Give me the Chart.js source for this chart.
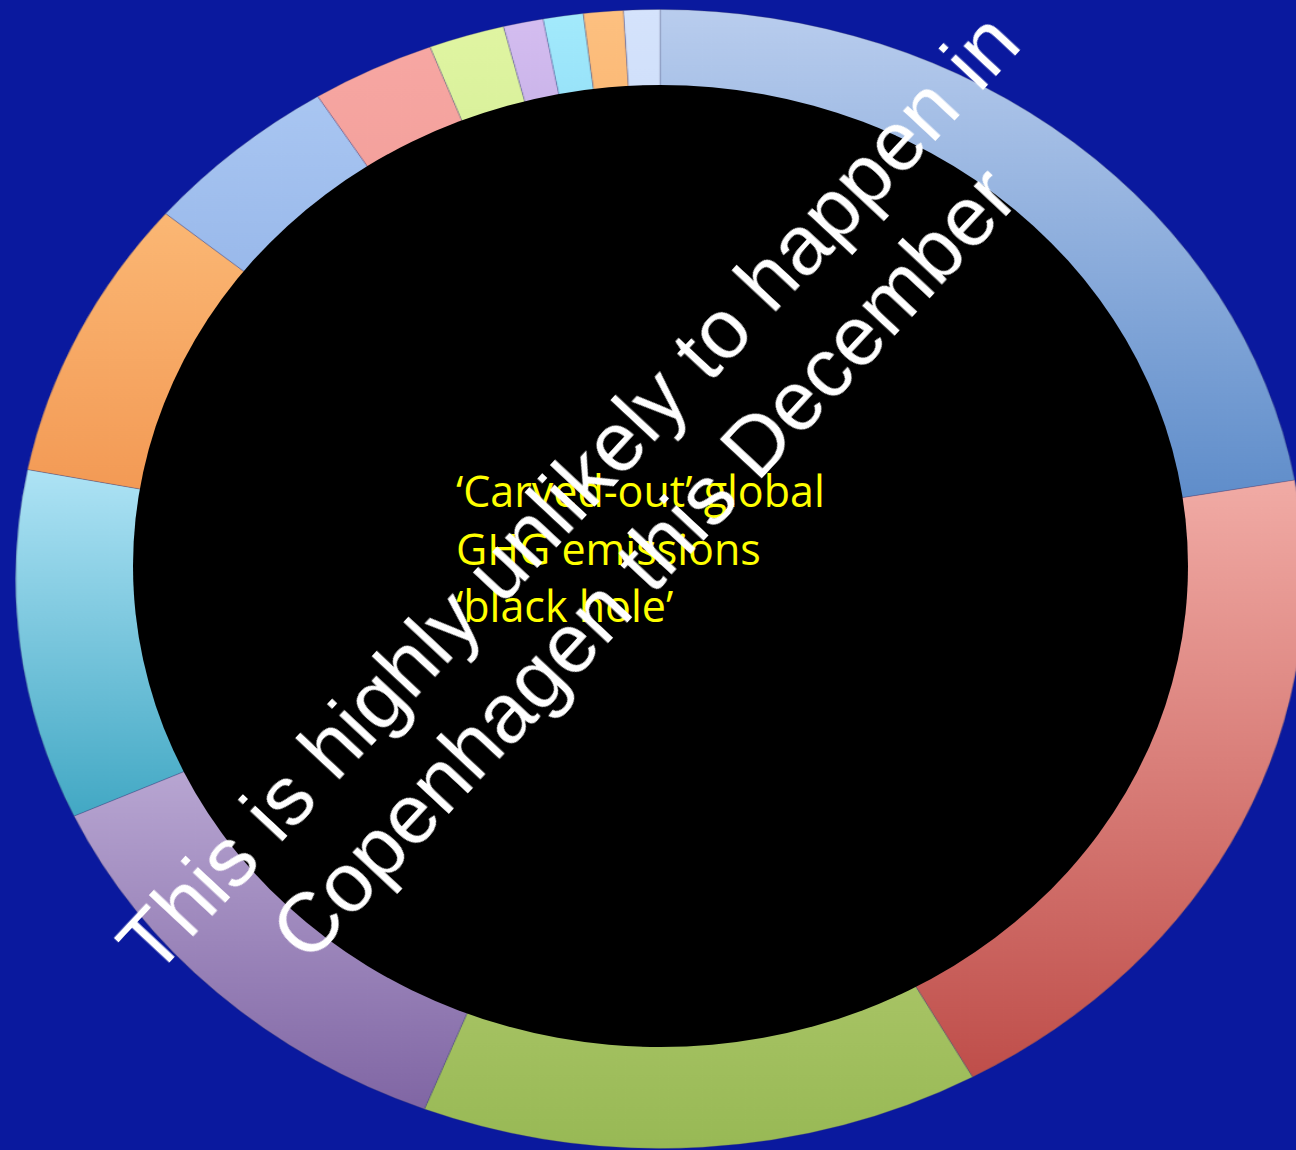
<!DOCTYPE html>
<html>
<head>
<meta charset="utf-8">
<script src="https://cdn.jsdelivr.net/npm/chart.js@4"></script>
<style>
  html, body { margin: 0; padding: 0; }
  body {
    width: 1296px; height: 1150px; overflow: hidden;
    background: #0a199e; position: relative;
  }
  #ring {
    position: absolute; left: 90px; top: 9px;
    width: 1140px; height: 1140px;
    transform: scaleX(1.1316); transform-origin: 50% 50%;
  }
  #hole {
    position: absolute; left: 133px; top: 85px;
    width: 1055px; height: 962px;
    border-radius: 50%; background: #000;
  }
  #note {
    position: absolute; left: 456px; top: 462px;
    font: 43px "Open Sans", Lato, sans-serif; line-height: 57.5px;
    color: #ffff00; white-space: nowrap;
  }
  #banner {
    position: absolute; left: 606px; top: 528px;
    transform: translate(-50%, -50%) rotate(-47deg);
    font: 84px "Liberation Sans", Arial, sans-serif; line-height: 103px;
    color: #fff; text-align: center; white-space: nowrap;
  }
</style>
</head>
<body>
<div id="ring"><canvas id="chart"></canvas></div>
<div id="hole"></div>
<div id="note">‘Carved-out’ global<br>GHG emissions<br>‘black hole’</div>
<div id="banner">This is highly unlikely to happen in<br>Copenhagen this December</div>

<script>
// share of global emissions per slice, clockwise from 12 o'clock
const sources = ['Source 1', 'Source 2', 'Source 3', 'Source 4', 'Source 5', 'Source 6', 'Source 7',
                 'Source 8', 'Source 9', 'Source 10', 'Source 11', 'Source 12', 'Source 13'];
const shares = [22.2, 19.7, 14.0, 12.2, 9.9, 8.0, 5.0, 3.1, 1.9, 1.0, 1.0, 1.0, 0.9];

// each slice fades from a light tone at its top to a deeper tone at its bottom
const topColors = ['#b9cdee', '#f1aba5', '#a8c465', '#b8a6d2', '#aee3f5', '#fbb774', '#a9c6f2',
                   '#f7a7a3', '#e0f5a2', '#d4bdf0', '#a3eafc', '#fdc080', '#d5e3fc'];
const bottomColors = ['#5f8dca', '#bf4e4a', '#98b955', '#8066a4', '#42a8c4', '#f39a55', '#98b8ea',
                      '#f3a09b', '#d8f09a', '#c8b2e8', '#94e0f8', '#fbb874', '#cfdffa'];

const sliceGradients = {
  id: 'sliceGradients',
  beforeDatasetsDraw(chart) {
    const ctx = chart.ctx;
    chart.getDatasetMeta(0).data.forEach((arc, i) => {
      const p = arc.getProps(['x', 'y', 'startAngle', 'endAngle', 'innerRadius', 'outerRadius']);
      let top = Infinity, bottom = -Infinity;
      for (let k = 0; k <= 24; k++) {
        const a = p.startAngle + (p.endAngle - p.startAngle) * k / 24;
        for (const r of [p.innerRadius, p.outerRadius]) {
          const y = p.y + Math.sin(a) * r;
          top = Math.min(top, y);
          bottom = Math.max(bottom, y);
        }
      }
      const g = ctx.createLinearGradient(0, top, 0, bottom);
      g.addColorStop(0, topColors[i]);
      g.addColorStop(1, bottomColors[i]);
      arc.options.backgroundColor = g;
    });
  }
};

new Chart(document.getElementById('chart'), {
  type: 'doughnut',
  data: {
    labels: sources,
    datasets: [{
      data: shares,
      backgroundColor: bottomColors,
      borderColor: 'rgba(70, 70, 110, 0.3)',
      borderWidth: 1
    }]
  },
  options: {
    responsive: true,
    maintainAspectRatio: false,
    animation: false,
    cutout: '80%',
    layout: { padding: 0 },
    plugins: {
      legend: { display: false },
      tooltip: { enabled: false }
    }
  },
  plugins: [sliceGradients]
});
</script>
</body>
</html>
